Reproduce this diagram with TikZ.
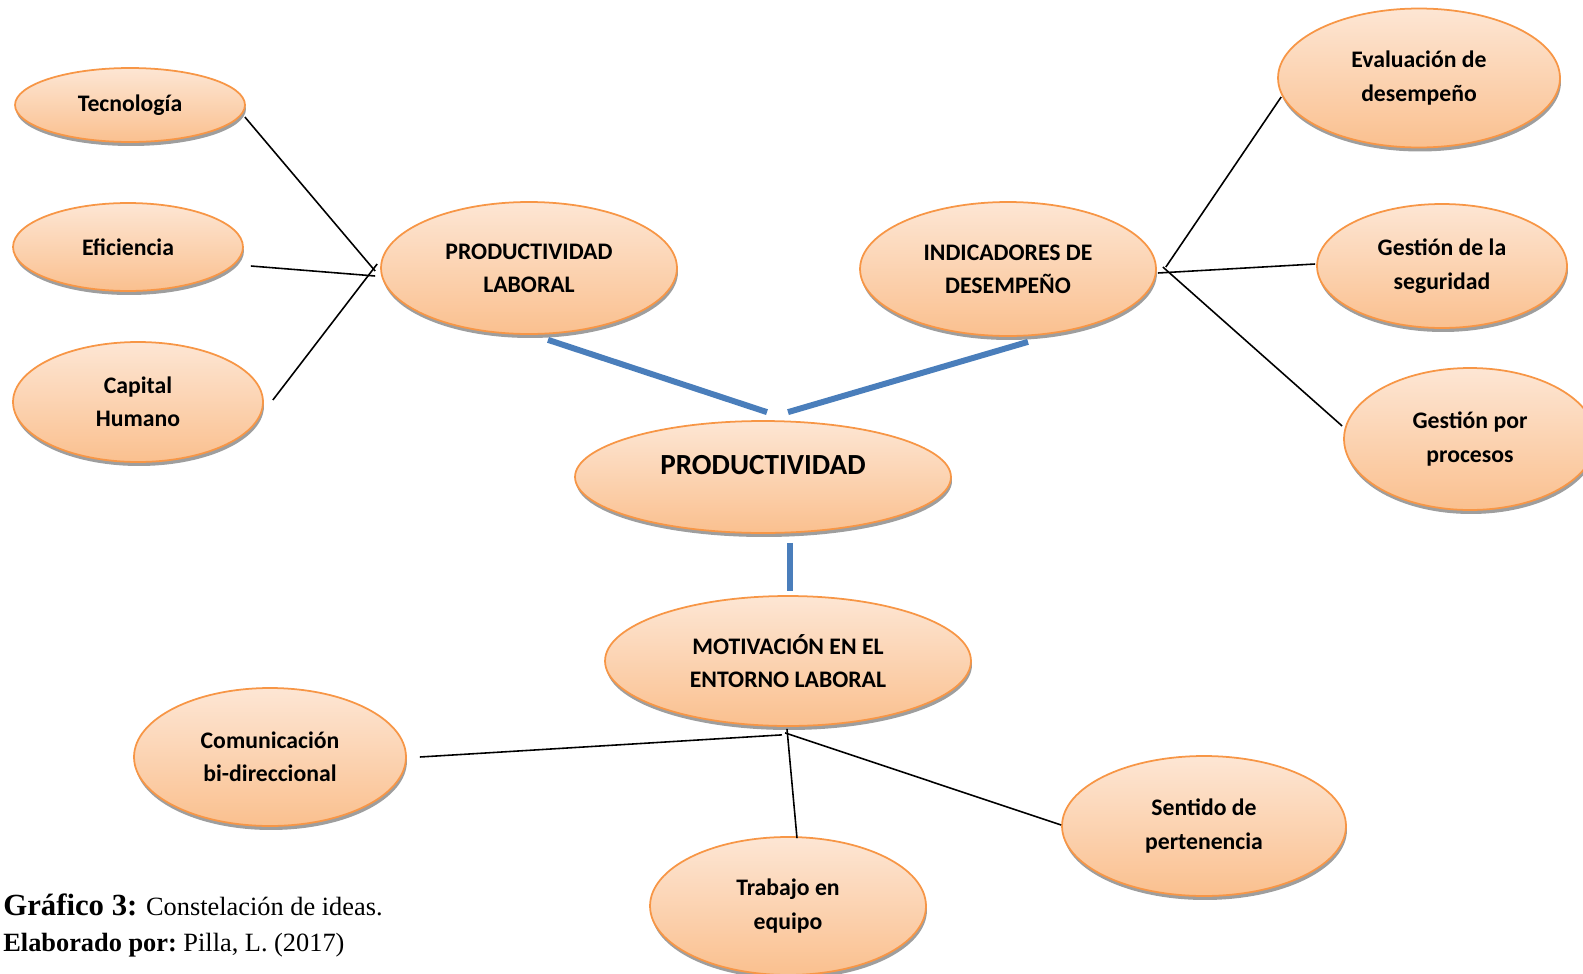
\documentclass[tikz,border=0pt]{standalone}
\usepackage{fontspec}
\setmainfont{Carlito}
\newfontfamily\capfont{Liberation Serif}
\usetikzlibrary{shapes.geometric,shadows,calc}

\definecolor{ideatop}{HTML}{FDE6D4}
\definecolor{ideabottom}{HTML}{FAC08F}
\definecolor{ideaborder}{HTML}{F79646}
\definecolor{linkblue}{HTML}{4A7EBB}

\tikzstyle{idea} = [ellipse,draw=ideaborder,line width=1pt,top color=ideatop,bottom color=ideabottom,
	drop shadow={shadow xshift=0.02cm,shadow yshift=-0.08cm,fill=black!38,opacity=1},
	inner sep=0pt,align=center,font=\fontsize{13.5}{19}\selectfont\bfseries]
\tikzstyle{link} = [draw=linkblue,line width=3.4pt]
\tikzstyle{branch} = [draw=black,line width=0.9pt]
\tikzstyle{caption} = [anchor=base west,inner sep=0pt,font=\capfont\fontsize{15}{18}\selectfont]

\begin{document}
\begin{tikzpicture}[x=0.02cm,y=-0.02cm]
	\useasboundingbox (0,0) rectangle (1583,974);
	\clip (0,0) rectangle (1583,974);

	% hubs
	\node[idea,minimum width=5.92cm,minimum height=2.64cm] (pl) at (529,268) {PRODUCTIVIDAD\\LABORAL};
	\node[idea,minimum width=5.92cm,minimum height=2.68cm] (ind) at (1008,269) {INDICADORES DE\\DESEMPEÑO};
	\node[idea,minimum width=7.52cm,minimum height=2.24cm,font=\fontsize{16.6}{20}\selectfont\bfseries] (prod) at (763,477) {\raisebox{0.48cm}{PRODUCTIVIDAD}};
	\node[idea,minimum width=7.32cm,minimum height=2.6cm] (mot) at (788,661) {MOTIVACIÓN EN EL\\ENTORNO LABORAL};

	% leaves
	\node[idea,minimum width=4.6cm,minimum height=1.48cm] (tec) at (130,105) {Tecnología};
	\node[idea,minimum width=4.6cm,minimum height=1.76cm] (efi) at (128,247) {Eficiencia};
	\node[idea,minimum width=5cm,minimum height=2.4cm] (cap) at (138,402) {Capital\\Humano};
	\node[idea,minimum width=5.64cm,minimum height=2.78cm] (eva) at (1419,78) {Evaluación de\\desempeño};
	\node[idea,minimum width=5cm,minimum height=2.48cm] (seg) at (1442,266) {Gestión de la\\seguridad};
	\node[idea,minimum width=5.04cm,minimum height=2.84cm] (pro) at (1470,439) {Gestión por\\procesos};
	\node[idea,minimum width=5.44cm,minimum height=2.76cm] (com) at (270,757) {Comunicación\\bi-direccional};
	\node[idea,minimum width=5.52cm,minimum height=2.76cm] (tra) at (788,906) {Trabajo en\\equipo};
	\node[idea,minimum width=5.68cm,minimum height=2.8cm] (sen) at (1204,826) {Sentido de\\pertenencia};

	\draw[link] ($(pl.south)+(19,5)$) -- ($(prod.north)+(4,-8)$);
	\draw[link] ($(ind.south)+(20,5)$) -- ($(prod.north)+(25,-8)$);
	\draw[link] ($(prod.south)+(27,9)$) -- ($(mot.north)+(2,-4)$);

	\draw[branch] ($(tec.east)+(-1,12)$) -- ($(pl.west)+(-5,3)$);
	\draw[branch] ($(efi.east)+(7,19)$) -- ($(pl.west)+(-5,8)$);
	\draw[branch] ($(cap.east)+(9,-2)$) -- ($(pl.west)+(-3,-4)$);

	\draw[branch] ($(eva.west)+(4,19)$) -- ($(ind.east)+(9,-2)$);
	\draw[branch] ($(seg.west)+(-1,-2)$) -- ($(ind.east)+(1,4)$);
	\draw[branch] ($(pro.west)+(-1,-13)$) -- ($(ind.east)+(6,-2)$);

	\draw[branch] ($(com.east)+(13,0)$) -- ($(mot.south)+(-6,8)$);
	\draw[branch] ($(tra.north)+(9,2)$) -- ($(mot.south)+(-1,2)$);
	\draw[branch] ($(sen.west)+(0,-1)$) -- ($(mot.south)+(-3,6)$);

	\node[caption] (cap1) at (3,915) {\textbf{\fontsize{17.5}{18}\selectfont Gráfico 3:} Constelación de ideas.};
	\node[caption] (cap2) at (3,951) {\textbf{Elaborado por:}~Pilla, L. (2017)};
\end{tikzpicture}
\end{document}
